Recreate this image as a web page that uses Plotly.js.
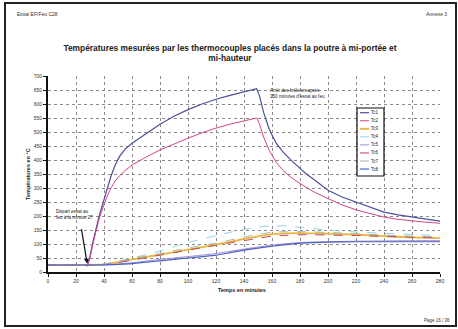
<!DOCTYPE html>
<html>
<head>
<meta charset="utf-8">
<script src="https://cdn.plot.ly/plotly-3.0.1.min.js"></script>
<style>
  html, body { margin: 0; padding: 0; background: #fff; }
  #chart { width: 458px; height: 329px; }
</style>
</head>
<body>
<div id="chart"></div>
<script>
// Temps (minutes) et températures (°C) des thermocouples
const tHigh = [0, 10, 20, 27, 28, 30, 32, 34, 36, 38, 40, 42, 45, 48, 51, 55, 60, 65, 70, 80, 90, 100, 110, 120, 130, 140, 145, 149,
               151, 154, 158, 163, 168, 173, 180, 185, 190, 200, 210, 220, 230, 240, 250, 260, 270, 280];
const tc1 = [25, 25, 25, 25, 22, 55, 105, 150, 190, 225, 255, 292, 342, 382, 412, 438, 460, 477, 493, 528, 556, 580, 600, 617, 631, 643, 650, 655,
             630, 570, 510, 460, 428, 402, 370, 348, 330, 292, 268, 250, 230, 214, 204, 196, 189, 182];
const tc2 = [25, 25, 25, 25, 22, 50, 98, 142, 180, 212, 240, 268, 300, 325, 343, 362, 382, 397, 410, 436, 458, 478, 497, 514, 528, 540, 546, 550,
             530, 482, 435, 392, 362, 340, 316, 300, 286, 262, 240, 222, 208, 196, 188, 182, 178, 174];

const tLow = [0, 20, 28, 40, 50, 60, 70, 80, 90, 100, 110, 120, 130, 140, 150, 160, 170, 180, 190, 200, 220, 240, 260, 280];
const tc3 = [25, 25, 25, 27, 35, 45, 54, 62, 71, 80, 89, 98, 108, 118, 127, 135, 138, 139, 138, 137, 133, 128, 124, 121];
const tc4 = [25, 25, 25, 29, 38, 50, 62, 75, 90, 105, 118, 130, 142, 152, 160, 165, 164, 160, 155, 150, 143, 138, 134, 130];
const tc5 = [25, 25, 25, 26, 29, 33, 39, 45, 50, 55, 60, 66, 74, 82, 89, 96, 101, 105, 107, 108, 110, 111, 112, 112];
const tc6 = [25, 25, 25, 27, 34, 42, 51, 60, 69, 78, 87, 95, 104, 112, 120, 128, 131, 133, 133, 132, 130, 127, 124, 122];
const tc7 = [25, 25, 25, 28, 37, 48, 57, 66, 76, 86, 95, 103, 114, 125, 134, 142, 144, 144, 143, 141, 137, 132, 128, 125];
const tc8 = [25, 25, 25, 25, 27, 30, 35, 40, 45, 50, 55, 60, 69, 78, 85, 92, 98, 103, 105, 107, 108, 108, 108, 108];

const seriesNames = ['Tc1', 'Tc2', 'Tc3', 'Tc4', 'Tc5', 'Tc6', 'Tc7', 'Tc8'];
const xTicks = [0, 20, 40, 60, 80, 100, 120, 140, 160, 180, 200, 220, 240, 260, 280];
const yTicks = [0, 50, 100, 150, 200, 250, 300, 350, 400, 450, 500, 550, 600, 650, 700];

// Styles des courbes
const styles = [
  {color: '#4b4f9e', width: 1.2, dash: 'solid'},
  {color: '#d2468a', width: 1.0, dash: 'solid'},
  {color: '#e9b43a', width: 1.8, dash: 'solid'},
  {color: '#8fd0e6', width: 1.0, dash: 'dash'},
  {color: '#a08cd0', width: 1.0, dash: 'solid'},
  {color: '#c0405e', width: 1.0, dash: 'dash'},
  {color: '#9fb8a8', width: 1.0, dash: 'dash'},
  {color: '#4a62c4', width: 1.2, dash: 'solid'}
];

const xs = [tHigh, tHigh, tLow, tLow, tLow, tLow, tLow, tLow];
const ys = [tc1, tc2, tc3, tc4, tc5, tc6, tc7, tc8];

const traces = seriesNames.map((name, i) => ({
  x: xs[i], y: ys[i], name: name, type: 'scatter', mode: 'lines',
  line: i < 2
    ? {color: styles[i].color, width: styles[i].width, dash: styles[i].dash, shape: 'linear'}
    : {color: styles[i].color, width: styles[i].width, dash: styles[i].dash, shape: 'spline', smoothing: 0.5},
  showlegend: false, hoverinfo: 'skip'
}));

// Géométrie de la zone de tracé (pixels)
const W = 458, H = 329;
const L = 48, R = 440, T = 76, B = 272;
const px = v => (v - L) / (R - L);
const py = v => (B - v) / (B - T);

const FONT = 'Liberation Sans, Arial, sans-serif';
const shapes = [];
const annotations = [];

// Cadre de la page
shapes.push({type: 'rect', xref: 'paper', yref: 'paper',
  x0: px(5), x1: px(456), y0: py(326), y1: py(3),
  line: {color: '#222', width: 2}, fillcolor: 'rgba(0,0,0,0)'});

// Légende
shapes.push({type: 'rect', xref: 'paper', yref: 'paper',
  x0: px(357), x1: px(384), y0: py(176), y1: py(108),
  line: {color: '#111', width: 1.2}, fillcolor: '#fff'});
seriesNames.forEach((name, i) => {
  const yy = 112.7 + i * 8.05;
  shapes.push({type: 'line', xref: 'paper', yref: 'paper',
    x0: px(360), x1: px(369), y0: py(yy), y1: py(yy),
    line: {color: styles[i].color, width: styles[i].width, dash: 'solid'}});
  annotations.push({xref: 'paper', yref: 'paper', x: px(369.5), y: py(yy),
    xanchor: 'left', yanchor: 'middle', text: name, showarrow: false, borderpad: 0,
    font: {family: FONT, size: 4.5, color: '#222'}});
});

// En-tête et pied de page
annotations.push({xref: 'paper', yref: 'paper', x: px(15), y: py(14), xanchor: 'left', yanchor: 'middle',
  text: 'Essai EF/Feu C28', showarrow: false, font: {family: FONT, size: 5, color: '#333'}});
annotations.push({xref: 'paper', yref: 'paper', x: px(449), y: py(14), xanchor: 'right', yanchor: 'middle',
  text: 'Annexe 3', showarrow: false, font: {family: FONT, size: 5, color: '#333'}});
annotations.push({xref: 'paper', yref: 'paper', x: px(452), y: py(320), xanchor: 'right', yanchor: 'middle',
  text: 'Page 16 / 36', showarrow: false, font: {family: FONT, size: 4.5, color: '#333'}});

// Titres des axes
annotations.push({xref: 'paper', yref: 'paper', x: px(242), y: py(290), xanchor: 'center', yanchor: 'middle',
  text: '<b>Temps en minutes</b>', showarrow: false, font: {family: FONT, size: 5.5, color: '#222'}});
annotations.push({xref: 'paper', yref: 'paper', x: px(28), y: py(174), xanchor: 'center', yanchor: 'middle',
  text: '<b>Températures en °C</b>', textangle: -90, showarrow: false, font: {family: FONT, size: 5.5, color: '#222'}});

// Commentaires sur le graphique
annotations.push({xref: 'paper', yref: 'paper', x: px(269), y: py(93), xanchor: 'left', yanchor: 'middle',
  text: 'Arrêt des brûleurs après<br>150 minutes d\'essai au feu', align: 'left', showarrow: false, borderpad: 0,
  font: {family: FONT, size: 4.6, color: '#222'}});
annotations.push({xref: 'paper', yref: 'paper', x: px(55), y: py(214), xanchor: 'left', yanchor: 'middle',
  text: 'Départ essai au<br>feu à la minute 27', align: 'left', showarrow: false, borderpad: 0,
  font: {family: FONT, size: 4.6, color: '#222'}});
annotations.push({xref: 'x', yref: 'y', x: 28, y: 30, text: '', showarrow: true,
  axref: 'pixel', ayref: 'pixel', ax: -6, ay: -36,
  arrowhead: 2, arrowsize: 0.8, arrowwidth: 1.2, arrowcolor: '#111'});

const layout = {
  width: W, height: H,
  margin: {l: L, r: W - R, t: T, b: H - B, pad: 0},
  paper_bgcolor: '#fff', plot_bgcolor: '#fff',
  showlegend: false,
  title: {
    text: '<b>Températures mesurées par les thermocouples placés dans la poutre à mi-portée et<br>mi-hauteur</b>',
    x: 230 / W, xanchor: 'center', y: 1 - 50.5 / H, yanchor: 'middle', xref: 'container', yref: 'container',
    font: {family: FONT, size: 8.4, color: '#222'}
  },
  xaxis: {
    range: [0, 280], tickmode: 'array', tickvals: xTicks, ticktext: xTicks.map(String),
    showgrid: true, gridcolor: '#8a8a8a', griddash: 'dot', gridwidth: 1,
    showline: true, linecolor: '#111', linewidth: 2, zeroline: false,
    ticks: 'outside', ticklen: 3, tickwidth: 1, tickcolor: '#111',
    tickfont: {family: FONT, size: 5, color: '#333'}, fixedrange: true
  },
  yaxis: {
    range: [0, 700], tickmode: 'array', tickvals: yTicks, ticktext: yTicks.map(String),
    showgrid: true, gridcolor: '#8a8a8a', griddash: 'dot', gridwidth: 1,
    showline: true, linecolor: '#111', linewidth: 2, zeroline: false,
    ticks: 'outside', ticklen: 3, tickwidth: 1, tickcolor: '#111',
    tickfont: {family: FONT, size: 5, color: '#333'}, fixedrange: true
  },
  shapes: shapes,
  annotations: annotations
};

Plotly.newPlot('chart', traces, layout, {staticPlot: true, displayModeBar: false});
</script>
</body>
</html>
